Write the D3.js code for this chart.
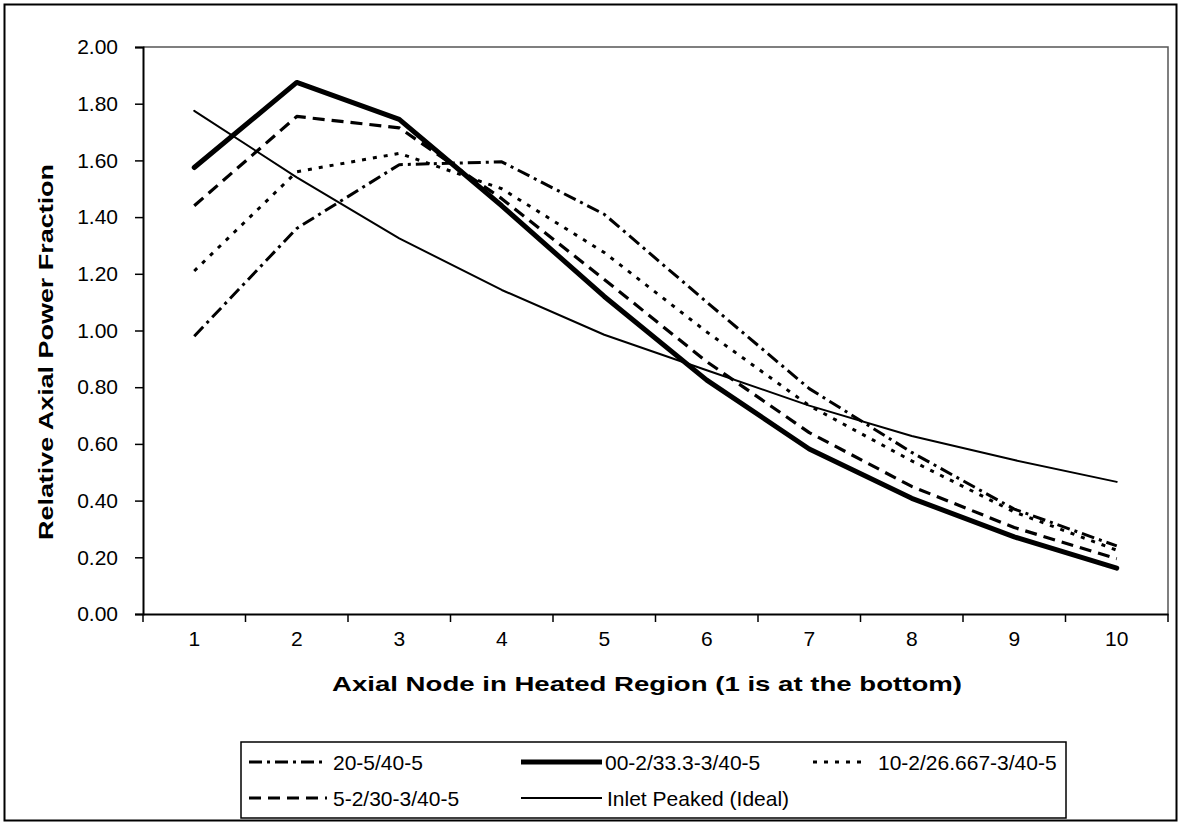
<!DOCTYPE html>
<html>
<head>
<meta charset="utf-8">
<script src="https://cdn.jsdelivr.net/npm/d3@7/dist/d3.min.js"></script>
<style>
  html, body { margin: 0; padding: 0; background: #fff; }
  svg { display: block; font-family: "Liberation Sans", Arial, sans-serif; }
</style>
</head>
<body>
<svg id="chart" width="1180" height="824"></svg>
<script>
// Axial nodes along the heated region
const nodes = [1, 2, 3, 4, 5, 6, 7, 8, 9, 10];

// Relative axial power fraction per node for each profile
const profile20_5 = [0.98, 1.36, 1.585, 1.595, 1.41, 1.10, 0.795, 0.57, 0.37, 0.24];
const profile00_2 = [1.575, 1.875, 1.745, 1.44, 1.12, 0.825, 0.582, 0.408, 0.272, 0.162];
const profile10_2 = [1.21, 1.56, 1.625, 1.50, 1.275, 0.995, 0.735, 0.54, 0.36, 0.225];
const profile5_2 = [1.44, 1.755, 1.715, 1.465, 1.18, 0.89, 0.64, 0.45, 0.305, 0.195];
const inletPeaked = [1.775, 1.54, 1.325, 1.143, 0.985, 0.86, 0.735, 0.628, 0.543, 0.466];

const seriesNames = ["20-5/40-5", "00-2/33.3-3/40-5", "10-2/26.667-3/40-5", "5-2/30-3/40-5", "Inlet Peaked (Ideal)"];
const yTicks = [0, 0.2, 0.4, 0.6, 0.8, 1.0, 1.2, 1.4, 1.6, 1.8, 2.0];

const xTitle = "Axial Node in Heated Region (1 is at the bottom)";
const yTitle = "Relative Axial Power Fraction";

// line styles per series
const styles = [
  { width: 3, dash: "13,5,3,5" },
  { width: 5, dash: null },
  { width: 3, dash: "4,7" },
  { width: 3.2, dash: "12,7" },
  { width: 2, dash: null }
];

const series = [profile20_5, profile00_2, profile10_2, profile5_2, inletPeaked].map((vals, i) => ({
  name: seriesNames[i],
  style: styles[i],
  points: nodes.map((n, j) => ({ node: n, value: vals[j] }))
}));

const svg = d3.select("#chart");
const plot = { left: 143, top: 47, right: 1168, bottom: 614 };

// outer chart frame
svg.append("rect")
  .attr("x", 4.5).attr("y", 4.5)
  .attr("width", 1172).attr("height", 816)
  .attr("fill", "#fff").attr("stroke", "#000").attr("stroke-width", 2);

const x = d3.scaleBand().domain(nodes).range([plot.left, plot.right]);
const y = d3.scaleLinear().domain([0, 2]).range([plot.bottom, plot.top]);

// plot area border (top and right)
svg.append("path")
  .attr("d", `M${plot.left},${plot.top}H${plot.right}V${plot.bottom}`)
  .attr("fill", "none").attr("stroke", "#555").attr("stroke-width", 1.5);

// y axis
const yAxis = svg.append("g")
  .attr("transform", `translate(${plot.left},0)`)
  .call(d3.axisLeft(y).tickValues(yTicks).tickFormat(d3.format(".2f")).tickSize(8).tickPadding(17));
yAxis.select(".domain").attr("stroke-width", 2);
yAxis.selectAll(".tick line").attr("stroke-width", 1.5);
yAxis.selectAll("text").attr("font-size", 21).attr("fill", "#000");

// x axis: ticks fall on the band boundaries, labels at band centres
const xAxis = svg.append("g")
  .attr("transform", `translate(0,${plot.bottom})`)
  .call(d3.axisBottom(x).tickSize(0).tickPadding(17));
xAxis.select(".domain").attr("stroke-width", 2);
xAxis.selectAll("text").attr("font-size", 21).attr("fill", "#000");

const boundaries = nodes.map(n => x(n)).concat([x(nodes[nodes.length - 1]) + x.bandwidth()]);
svg.append("g").selectAll("line")
  .data(boundaries).join("line")
  .attr("x1", d => d).attr("x2", d => d)
  .attr("y1", plot.bottom).attr("y2", plot.bottom + 8)
  .attr("stroke", "#000").attr("stroke-width", 1.5);

// axis titles
svg.append("text")
  .attr("x", 647).attr("y", 691)
  .attr("text-anchor", "middle")
  .attr("font-size", 21).attr("font-weight", "bold")
  .attr("textLength", 630).attr("lengthAdjust", "spacingAndGlyphs")
  .text(xTitle);

svg.append("text")
  .attr("transform", "translate(53,352) rotate(-90)")
  .attr("text-anchor", "middle")
  .attr("font-size", 21).attr("font-weight", "bold")
  .attr("textLength", 376).attr("lengthAdjust", "spacingAndGlyphs")
  .text(yTitle);

// profile lines
const line = d3.line()
  .x(d => x(d.node) + x.bandwidth() / 2)
  .y(d => y(d.value));

svg.append("g").selectAll("path")
  .data(series).join("path")
  .attr("d", d => line(d.points))
  .attr("fill", "none")
  .attr("stroke", "#000")
  .attr("stroke-width", d => d.style.width)
  .attr("stroke-dasharray", d => d.style.dash)
  .attr("stroke-linejoin", "round")
  .attr("stroke-linecap", d => d.style.dash ? "butt" : "round");

// legend
const legend = svg.append("g");
legend.append("rect")
  .attr("x", 241).attr("y", 742)
  .attr("width", 825).attr("height", 76)
  .attr("fill", "#fff").attr("stroke", "#000").attr("stroke-width", 1.5);

const legendPos = [
  { x: 249, y: 762 },
  { x: 521, y: 762 },
  { x: 813, y: 762 },
  { x: 249, y: 798 },
  { x: 521, y: 798 }
];
const legendLen = [78, 81, 52, 78, 81];
const legendGap = [6, 3, 13, 6, 5];

const items = legend.selectAll("g.item")
  .data(series).join("g")
  .attr("class", "item")
  .attr("transform", (d, i) => `translate(${legendPos[i].x},${legendPos[i].y})`);

items.append("line")
  .attr("x1", 0).attr("x2", (d, i) => legendLen[i])
  .attr("y1", 0).attr("y2", 0)
  .attr("stroke", "#000")
  .attr("stroke-width", d => d.style.width)
  .attr("stroke-dasharray", d => d.style.dash);

items.append("text")
  .attr("x", (d, i) => legendLen[i] + legendGap[i])
  .attr("y", 0)
  .attr("dy", "0.36em")
  .attr("font-size", 21)
  .text(d => d.name);
</script>
</body>
</html>
